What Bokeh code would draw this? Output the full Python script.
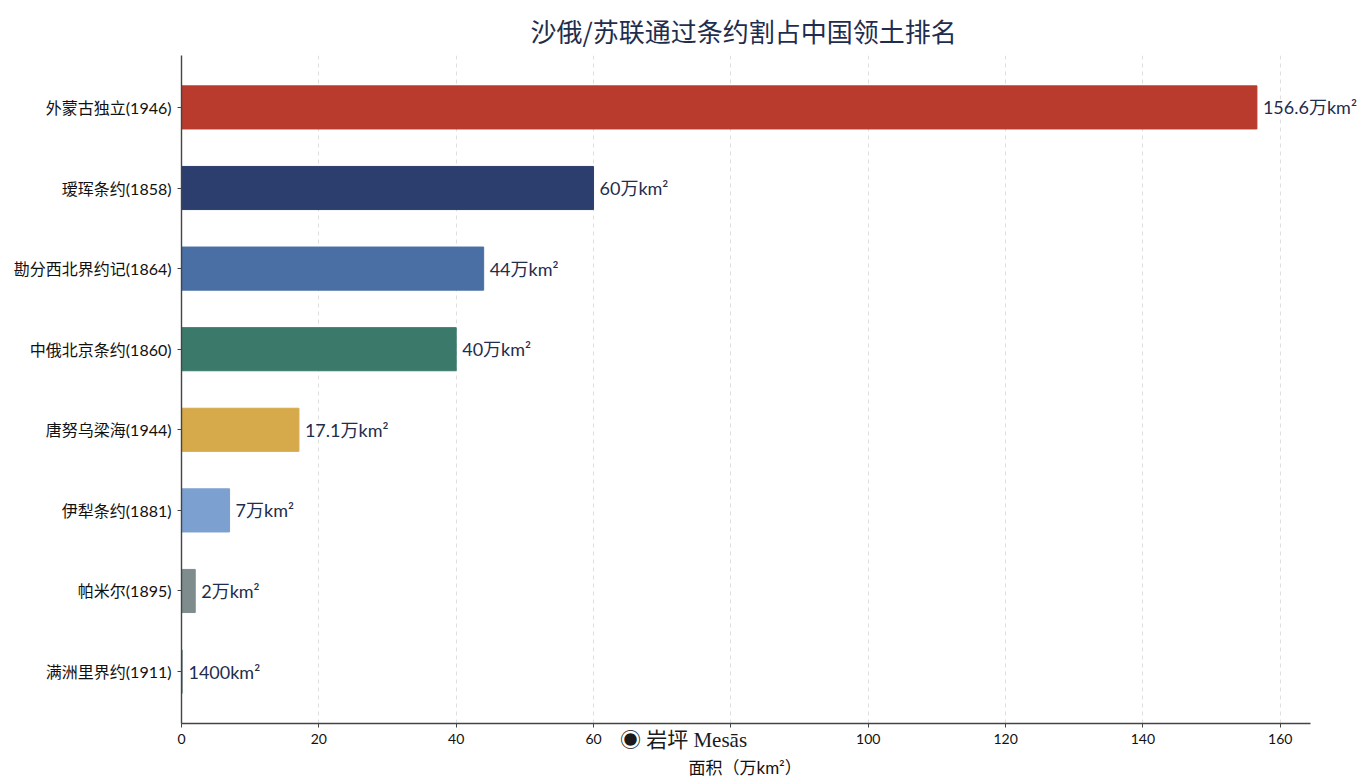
from bokeh.plotting import figure
from bokeh.models import ColumnDataSource, FactorRange, Range1d, LabelSet, FixedTicker, LinearAxis, Title
from bokeh.core.properties import value
from bokeh.embed import file_html
from bokeh.resources import INLINE

categories = ["外蒙古独立(1946)", "瑷珲条约(1858)", "勘分西北界约记(1864)", "中俄北京条约(1860)",
              "唐努乌梁海(1944)", "伊犁条约(1881)", "帕米尔(1895)", "满洲里界约(1911)"]
values = [156.6, 60, 44, 40, 17.1, 7, 2, 0.14]
value_labels = ["156.6万km²", "60万km²", "44万km²", "40万km²", "17.1万km²", "7万km²", "2万km²", "1400km²"]
colors = ["#b83b2d", "#2c3e6d", "#4a6fa5", "#3b7a6a", "#d6a94b", "#7ca0cf", "#7f8c8d", "#95a5a6"]
x_ticks = [0, 20, 40, 60, 80, 100, 120, 140, 160]
title_text = "沙俄/苏联通过条约割占中国领土排名"
x_label = "面积（万km²）"
logo_text = "◉ 岩坪 Mesās"
logo_pos = 73.1
axis_max = 164.4

LAT = "Lato, 'Noto Sans CJK SC', sans-serif"
CJK = "'Noto Sans CJK SC', sans-serif"
NAVY = "#1f2d4e"

src = ColumnDataSource(dict(cat=categories, val=values, lab=value_labels, col=colors))

W, H = 1362, 777
ML, MR, MT, MB = 181, 0, 55, 54
px_per_unit = (1310 - 181) / axis_max
x_end = (W - ML - MR) / px_per_unit

p = figure(width=W, height=H, output_backend="svg", toolbar_location=None,
           y_range=FactorRange(factors=categories[::-1], range_padding=0.036,
                               range_padding_units="percent"),
           x_range=Range1d(0, x_end),
           min_border_left=ML, min_border_right=MR, min_border_top=MT, min_border_bottom=MB)

p.hbar(y="cat", right="val", left=0, height=0.535, color="col", source=src)
p.add_layout(LabelSet(x="val", y="cat", text="lab", source=src, x_offset=6,
                      text_baseline="middle", text_align="left", text_font=value(LAT),
                      text_font_size="18px", text_color=NAVY))

p.title.text = title_text
p.title.align = "left"
p.title.offset = 349
p.title.vertical_align = "top"
p.title.text_font = CJK
p.title.text_font_size = "26px"
p.title.text_font_style = "normal"
p.title.text_color = NAVY
p.title.standoff = 10

p.outline_line_color = None
p.ygrid.grid_line_color = None
p.xgrid.grid_line_color = "#dedede"
p.xgrid.grid_line_dash = "4 4"
p.xgrid.grid_line_width = 1
p.xaxis.ticker = FixedTicker(ticks=x_ticks)
p.xaxis.bounds = (0, axis_max)
p.xaxis.minor_tick_line_color = None
p.xaxis.major_label_overrides = {80: ""}
for ax in (p.xaxis, p.yaxis):
    ax.axis_line_color = "#444444"
    ax.axis_line_width = 1.4
    ax.major_tick_line_color = "#444444"
    ax.major_tick_out = 4
    ax.major_tick_in = 0
    ax.major_label_text_font = LAT
    ax.major_label_text_color = "#111111"
p.xaxis.major_label_text_font_size = "14px"
p.yaxis.major_label_text_font_size = "16px"
p.yaxis.major_label_standoff = 6
p.xaxis.major_label_standoff = 6

# second bottom axis: carries the watermark, drawn up into the tick-label row
ax2 = LinearAxis(ticker=FixedTicker(ticks=[logo_pos]), bounds=(0, axis_max),
                 major_label_overrides={logo_pos: logo_text})
ax2.axis_line_color = None
ax2.major_tick_line_color = None
ax2.minor_tick_line_color = None
ax2.major_tick_out = 0
ax2.major_tick_in = 0
ax2.major_label_standoff = -19
ax2.major_label_text_font = "'Liberation Serif', 'Noto Sans CJK SC', serif"
ax2.major_label_text_font_size = "21px"
ax2.major_label_text_color = "#1a1a1a"
p.add_layout(ax2, "below")

xt = Title(text=x_label, align="left", offset=507, text_font=LAT,
           text_font_size="17px", text_font_style="normal", text_color="#111111", standoff=0)
p.add_layout(xt, "below")

open("out.html", "w").write(file_html(p, INLINE))
